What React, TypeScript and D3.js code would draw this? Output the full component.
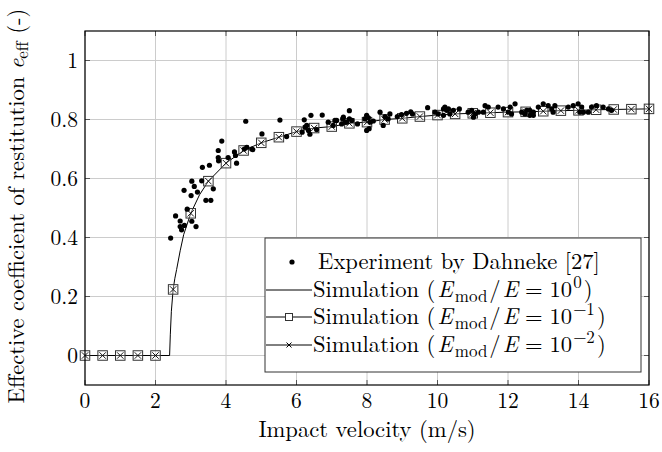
import React from 'react';
import * as d3 from 'd3';

// Experiment by Dahneke: impact velocity (m/s) and coefficient of restitution
const expX = [
  2.43, 2.57, 2.7, 2.7, 2.74, 2.82, 3.15, 2.9, 3.03, 2.81, 3.01, 3.1, 3.19, 3.03, 3.31,
  3.43, 3.57, 3.64, 3.33, 3.53, 3.78, 3.78, 3.79, 3.88, 4.06, 4.24, 4.3, 4.27,
  4.56, 4.52, 4.59, 4.73, 4.76, 5.02, 5.53, 5.72, 6.22, 6.41, 6.73,
  6.24, 6.34, 6.29, 6.38, 6.16, 6.57, 6.9, 7.04, 7.09, 7.14,
  7.31, 7.33, 7.5, 7.5, 7.28, 7.42, 7.38, 7.57, 7.73,
  7.99, 8.04, 7.94, 8.09, 7.99, 8.06, 8.18, 8.37, 8.51, 8.65, 8.46, 8.6,
  8.86, 8.98, 9.12, 9.24, 9.29, 9.72, 9.93, 10.02, 10.17, 10.21, 10.26, 10.31, 10.35, 10.17,
  10.45, 10.62, 10.87, 10.97, 11.06, 11.16, 11.02, 11.35, 11.3, 11.44,
  11.72, 11.87, 12.01, 12.06, 12.2, 12.1, 12.39, 12.48, 12.53, 12.62, 12.72, 12.72, 12.62,
  12.86, 13.0, 13.14, 13.24, 13.33, 13.28, 13.71, 13.85, 13.99, 14.09, 14.04, 14.14,
  14.28, 14.37, 14.51, 14.7, 14.85, 14.94,
];
const expY = [
  0.398, 0.473, 0.456, 0.437, 0.426, 0.441, 0.437, 0.496, 0.455, 0.56, 0.542, 0.573, 0.554, 0.591, 0.592,
  0.526, 0.526, 0.565, 0.638, 0.645, 0.695, 0.671, 0.66, 0.727, 0.671, 0.69, 0.652, 0.678,
  0.794, 0.7, 0.706, 0.7, 0.698, 0.751, 0.798, 0.742, 0.799, 0.814, 0.815,
  0.774, 0.763, 0.78, 0.75, 0.757, 0.766, 0.791, 0.78, 0.797, 0.797,
  0.802, 0.808, 0.802, 0.83, 0.785, 0.791, 0.791, 0.797, 0.785,
  0.814, 0.806, 0.802, 0.791, 0.763, 0.769, 0.795, 0.825, 0.81, 0.819, 0.78, 0.802,
  0.81, 0.817, 0.821, 0.826, 0.819, 0.84, 0.825, 0.819, 0.836, 0.842, 0.831, 0.836, 0.819, 0.814,
  0.831, 0.836, 0.825, 0.831, 0.819, 0.825, 0.808, 0.847, 0.825, 0.842,
  0.842, 0.836, 0.825, 0.842, 0.853, 0.819, 0.825, 0.819, 0.831, 0.831, 0.825, 0.814, 0.814,
  0.842, 0.853, 0.847, 0.836, 0.847, 0.825, 0.842, 0.847, 0.853, 0.842, 0.825, 0.825,
  0.825, 0.842, 0.847, 0.842, 0.836, 0.831,
];

// Simulation E_mod/E = 10^0 (line only)
const sim0X = [0, 2.4, 2.42, 2.45, 2.5, 2.55, 2.6, 2.7, 2.8, 3.0, 3.25, 3.5, 4, 4.5, 5, 5.5, 6, 6.5, 7, 7.5, 8, 8.5, 9, 9.5, 10, 10.5, 11, 11.5, 12, 12.5, 13, 13.5, 14, 14.5, 15, 15.5, 16];
const sim0Y = [0, 0, 0.07, 0.15, 0.224, 0.262, 0.292, 0.355, 0.41, 0.482, 0.545, 0.591, 0.652, 0.695, 0.721, 0.74, 0.759, 0.771, 0.776, 0.787, 0.791, 0.8, 0.804, 0.81, 0.815, 0.819, 0.821, 0.823, 0.825, 0.826, 0.828, 0.83, 0.831, 0.833, 0.834, 0.835, 0.836];

// Simulation E_mod/E = 10^-1 (squares) and 10^-2 (crosses)
const simMarkX = [0, 0.5, 1, 1.5, 2, 2.5, 3, 3.5, 4, 4.5, 5, 5.5, 6, 6.5, 7, 7.5, 8, 8.5, 9, 9.5, 10, 10.5, 11, 11.5, 12, 12.5, 13, 13.5, 14, 14.5, 15, 15.5, 16];
const sim1Y = [0, 0, 0, 0, 0, 0.224, 0.482, 0.591, 0.652, 0.695, 0.721, 0.74, 0.759, 0.771, 0.776, 0.787, 0.791, 0.8, 0.804, 0.81, 0.815, 0.819, 0.821, 0.823, 0.825, 0.826, 0.828, 0.83, 0.831, 0.833, 0.834, 0.835, 0.836];
const sim2Y = [0, 0, 0, 0, 0, 0.224, 0.482, 0.591, 0.652, 0.695, 0.721, 0.74, 0.759, 0.771, 0.776, 0.787, 0.791, 0.8, 0.804, 0.81, 0.815, 0.819, 0.821, 0.823, 0.825, 0.826, 0.828, 0.83, 0.831, 0.833, 0.834, 0.835, 0.836];

const xTicks = [0, 2, 4, 6, 8, 10, 12, 14, 16];
const yTicks = [0, 0.2, 0.4, 0.6, 0.8, 1];

const W = 662;
const H = 452;
const FONT = "'Latin Modern Roman', 'CMU Serif', 'Liberation Serif', 'Times New Roman', serif";
const FS = 22.6; // label font size
const SUB = 17;

export default function App() {
  const x = d3.scaleLinear().domain([0, 16]).range([85, 649]);
  const y = d3.scaleLinear().domain([-0.1, 1.1]).range([385, 31]);
  const [x0, x1] = x.range();
  const [y0, y1] = y.range();

  const line = d3.line<number>()
    .x((_, i) => x(sim0X[i]))
    .y(d => y(d));

  const sq = 9.5;
  const cr = 3.2;

  const legendRows = [262, 290, 317, 345];
  const lx0 = 266, lx1 = 312, lmid = 289;

  // math-ish legend label, spaced a bit wider like TeX math mode
  const simText = (exp: string) => (
    <>
      Simulation (<tspan fontStyle="italic" dx={2}>E</tspan>
      <tspan fontSize={SUB} dy={5} dx={2}>mod</tspan>
      <tspan dy={-5} dx={2}>/</tspan>
      <tspan fontStyle="italic" dx={2}>E</tspan>
      <tspan dx={7}>=</tspan>
      <tspan dx={7}>10</tspan>
      <tspan fontSize={SUB} dy={-9} dx={1}>{exp}</tspan>
      <tspan dy={9} dx={2}>)</tspan>
    </>
  );

  return (
    <svg width={W} height={H} style={{ position: 'absolute', left: 0, top: 0, background: '#fff' }} fontFamily={FONT}>
      {/* grid */}
      <g stroke="#cccccc" strokeWidth={1}>
        {xTicks.map(t => <line key={'gx' + t} x1={x(t)} x2={x(t)} y1={y0} y2={y1} />)}
        {yTicks.map(t => <line key={'gy' + t} x1={x0} x2={x1} y1={y(t)} y2={y(t)} />)}
      </g>
      {/* ticks inside */}
      <g stroke="#555" strokeWidth={1}>
        {xTicks.map(t => (
          <g key={'tx' + t}>
            <line x1={x(t)} x2={x(t)} y1={y0} y2={y0 - 5} />
            <line x1={x(t)} x2={x(t)} y1={y1} y2={y1 + 5} />
          </g>
        ))}
        {yTicks.map(t => (
          <g key={'ty' + t}>
            <line x1={x0} x2={x0 + 5} y1={y(t)} y2={y(t)} />
            <line x1={x1} x2={x1 - 5} y1={y(t)} y2={y(t)} />
          </g>
        ))}
      </g>

      {/* simulation line */}
      <path d={line(sim0Y) || ''} fill="none" stroke="#000" strokeWidth={1} />

      {/* square markers 10^-1 */}
      <g fill="none" stroke="#333" strokeWidth={1}>
        {simMarkX.map((v, i) => (
          <rect key={'s' + i} x={x(v) - sq / 2} y={y(sim1Y[i]) - sq / 2} width={sq} height={sq} fill="#fff" fillOpacity={0.3} />
        ))}
      </g>
      {/* cross markers 10^-2 */}
      <g stroke="#000" strokeWidth={0.9}>
        {simMarkX.map((v, i) => (
          <g key={'c' + i}>
            <line x1={x(v) - cr} x2={x(v) + cr} y1={y(sim2Y[i]) - cr} y2={y(sim2Y[i]) + cr} />
            <line x1={x(v) - cr} x2={x(v) + cr} y1={y(sim2Y[i]) + cr} y2={y(sim2Y[i]) - cr} />
          </g>
        ))}
      </g>

      {/* experiment dots */}
      <g fill="#000">
        {expX.map((v, i) => <circle key={'e' + i} cx={x(v)} cy={y(expY[i])} r={2.6} />)}
      </g>

      {/* frame */}
      <rect x={x0} y={y1} width={x1 - x0} height={y0 - y1} fill="none" stroke="#000" strokeWidth={1.2} />

      {/* tick labels */}
      <g fontSize={21.5} fill="#000">
        {xTicks.map(t => (
          <text key={'lx' + t} x={x(t)} y={408} textAnchor="middle">{t}</text>
        ))}
        {yTicks.map(t => (
          <text key={'ly' + t} x={78} y={y(t) + 7} textAnchor="end">{t === 0 || t === 1 ? String(t) : t.toFixed(1)}</text>
        ))}
      </g>

      {/* axis titles */}
      <text x={(x0 + x1) / 2} y={437} textAnchor="middle" fontSize={FS}>Impact velocity (m/s)</text>
      <text transform={`translate(24,${(y0 + y1) / 2 - 2}) rotate(-90)`} textAnchor="middle" fontSize={FS}>
        Effective coefficient of restitution <tspan fontStyle="italic">e</tspan>
        <tspan fontSize={SUB} dy={4}>eff</tspan>
        <tspan dy={-4}> (-)</tspan>
      </text>

      {/* legend */}
      <g>
        <rect x={265} y={238} width={376} height={134} fill="#fff" stroke="#333" strokeWidth={1} />
        <circle cx={lmid + 3} cy={legendRows[0]} r={2.6} fill="#000" />
        <line x1={lx0} x2={lx1} y1={legendRows[1]} y2={legendRows[1]} stroke="#000" />
        <line x1={lx0} x2={lx1} y1={legendRows[2]} y2={legendRows[2]} stroke="#000" />
        <rect x={lmid - 3.5} y={legendRows[2] - 3.5} width={7} height={7} fill="#fff" stroke="#333" />
        <line x1={lx0} x2={lx1} y1={legendRows[3]} y2={legendRows[3]} stroke="#000" />
        <line x1={lmid - 2.5} x2={lmid + 2.5} y1={legendRows[3] - 2.5} y2={legendRows[3] + 2.5} stroke="#000" />
        <line x1={lmid - 2.5} x2={lmid + 2.5} y1={legendRows[3] + 2.5} y2={legendRows[3] - 2.5} stroke="#000" />
        <g fontSize={FS}>
          <text x={318} y={legendRows[0] + 7}>Experiment by Dahneke [27]</text>
          <text x={313} y={legendRows[1] + 7}>{simText('0')}</text>
          <text x={313} y={legendRows[2] + 7}>{simText('−1')}</text>
          <text x={313} y={legendRows[3] + 7}>{simText('−2')}</text>
        </g>
      </g>
    </svg>
  );
}
